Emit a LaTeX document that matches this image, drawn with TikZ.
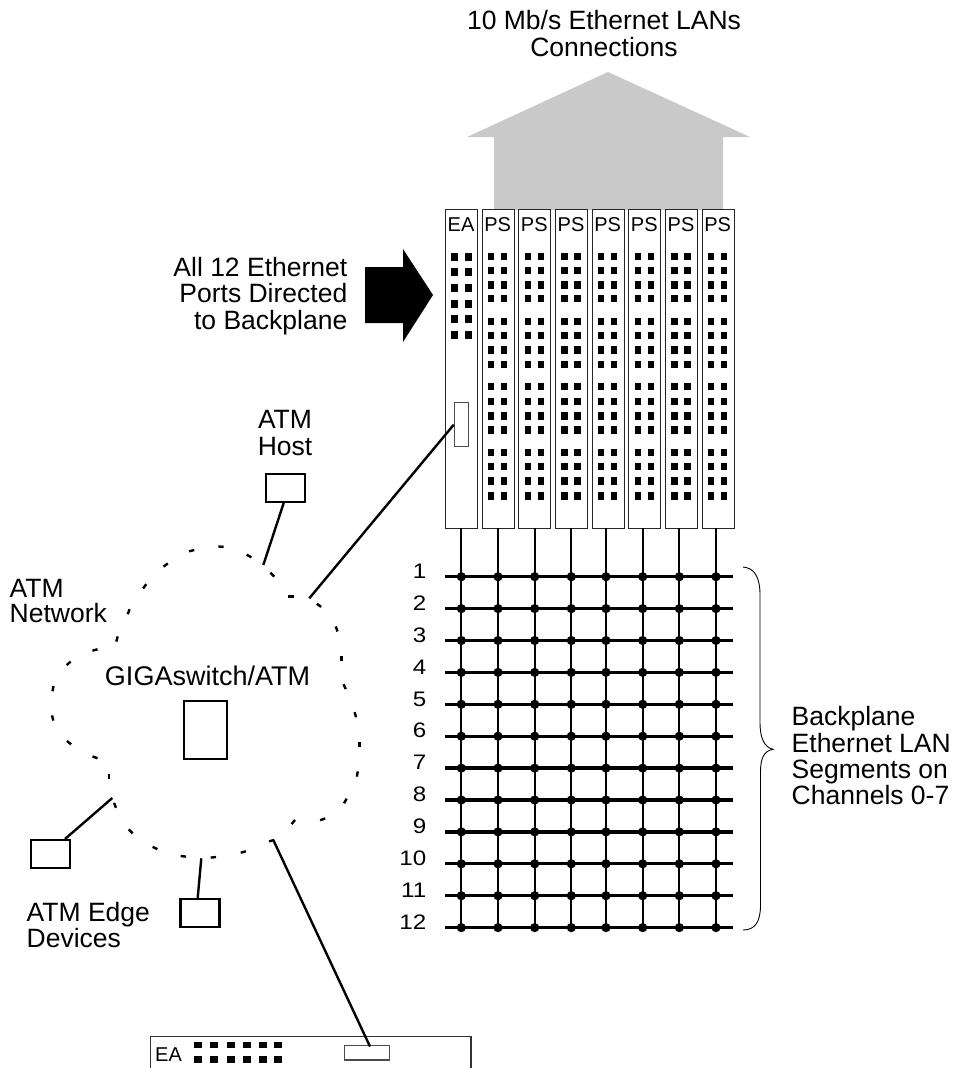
\documentclass[tikz,border=0pt]{standalone}
\usepackage{fontspec}
\setmainfont{Liberation Sans}
\newfontfamily\widefont[FakeStretch=1.15]{Liberation Sans}
\begin{document}
\begin{tikzpicture}[x=1pt,y=-1pt,
  lbl/.style={inner sep=0pt,font=\fontsize{26.5}{#1}\selectfont},
  small/.style={inner sep=0pt,font=\fontsize{20}{22}\selectfont},
  rownum/.style={inner sep=0pt,font=\widefont\fontsize{21}{22}\selectfont},
  slot/.style={draw=black!85,line width=1.1pt,fill=white,inner sep=0pt,anchor=north west},
  port/.style={draw=black!70,line width=1.1pt,fill=white,inner sep=0pt},
  devbox/.style={draw=black,line width=2.2pt,fill=white,inner sep=0pt},
  led/.style={fill=black,draw=none,inner sep=0pt},
  link/.style={draw=black,line width=2.4pt},
  bus/.style={draw=black,line width=3.3pt},
  drop/.style={draw=black,line width=1.8pt},
  clouddash/.style={draw=black,line width=2.4pt}]
\useasboundingbox (0,0) rectangle (955,1068);
% big arrows
\fill[black!21] (608,72) -- (750,137) -- (723,137) -- (723,210) -- (494,210) -- (494,137) -- (467,137) -- cycle;
\fill[black] (365,267) -- (403,267) -- (403,249) -- (433,295) -- (403,342) -- (403,323) -- (365,323) -- cycle;
% labels
\node[lbl=27pt,align=center] (top) at (604,33.8) {10 Mb/s Ethernet LANs\\Connections};
\node[lbl=26.4pt,align=right,anchor=east] (all) at (347.5,296.1) {All 12 Ethernet\\Ports Directed\\to Backplane};
\node[lbl=27pt,align=center] (hostl) at (285,433) {ATM\\Host};
\node[lbl=25.5pt,align=left,anchor=west] (netl) at (9.5,601.2) {ATM\\Network};
\node[inner sep=0pt,font=\fontsize{27}{29}\selectfont,anchor=base] (giga) at (207.5,685) {GIGAswitch/ATM};
\node[lbl=26.4pt,align=left,anchor=west] (edgel) at (26.5,925.2) {ATM Edge\\Devices};
\node[lbl=26.4pt,align=left,anchor=west] (backl) at (791.5,755.8) {Backplane\\Ethernet LAN\\Segments on\\Channels 0-7};
% EA slot
\node[slot,minimum width=32pt,minimum height=319.5pt] (ea) at (445,208.7) {};
\node[small,anchor=base] (ealbl) at (461,231) {EA};
\foreach \i/\y in {1/256.7,2/271.7,3/287.7,4/304,5/319.3,6/335}{
  \node[led,minimum width=6.9pt,minimum height=8pt] (eal\i) at (454.3,\y) {};
  \node[led,minimum width=6.9pt,minimum height=8pt] (ear\i) at (468.3,\y) {};
}
\node[port,minimum width=14pt,minimum height=44pt] (eaport) at (461.3,424.7) {};
% PS slots
\foreach \k/\xl in {1/481.7,2/518.3,3/555,4/591.7,5/628.3,6/665,7/701.7}{
  \node[slot,minimum width=32pt,minimum height=319.5pt] (ps\k) at (\xl,208.7) {};
  \node[small,anchor=base] (pslbl\k) at (\xl+16,231) {PS};
  \foreach \y in {256.7,270.7,285,298.7,321.7,335.7,350,364.7,386.7,401.3,416,430,452.7,466.7,481,496}{
    \node[led,minimum width=6.4pt,minimum height=7.5pt] at (\xl+9.5,\y) {};
    \node[led,minimum width=6.4pt,minimum height=7.5pt] at (\xl+22.5,\y) {};
  }
}
% backplane
\foreach \n/\x/\s in {0/461.3/ea,1/498/ps1,2/534.7/ps2,3/571.3/ps3,4/606/ps4,5/642.7/ps5,6/679.3/ps6,7/716/ps7}{
  \coordinate (dt\n) at (\x,528);
  \coordinate (db\n) at (\x,928);
  \draw[drop] (dt\n) -- (db\n);
}
\foreach \r in {1,...,12}{
  \pgfmathsetmacro{\yy}{576.7+(\r-1)*31.9}
  \coordinate (bl\r) at (445,\yy);
  \coordinate (br\r) at (733,\yy);
  \draw[bus] (bl\r) -- (br\r);
  \node[rownum,anchor=base east] (row\r) at (426.5,\yy+1.7) {\r};
  \foreach \x in {461.3,498,534.7,571.3,606,642.7,679.3,716}{
    \fill (\x,\yy) circle (4.6pt);
  }
}
% brace
\draw[black,line width=.9pt] (743,567) .. controls (755,568) and (760,578) .. (760,595)
  -- (760,722) .. controls (760,738) and (764,747) .. (773,749.3)
  .. controls (764,751) and (760.5,758) .. (760.5,772)
  -- (760.5,905) .. controls (760.5,922) and (755,930) .. (743,930);
% devices
\node[devbox,minimum width=39pt,minimum height=28pt] (host) at (285.5,487.7) {};
\node[devbox,minimum width=39pt,minimum height=28pt] (edgea) at (50.7,854.3) {};
\node[devbox,minimum width=39pt,minimum height=28pt] (edgeb) at (200,912.7) {};
\node[devbox,minimum width=43pt,minimum height=58pt] (gs) at (205.8,730) {};
% bottom EA card
\draw[draw=black!80,line width=1.1pt] (150.7,1068) -- (150.7,1036.7) -- (471,1036.7) -- (471,1068);
\node[small,anchor=base west] (ea2) at (155,1061) {EA};
\foreach \i/\x in {1/198.3,2/214.3,3/230.7,4/246.7,5/262.7,6/277.7}{
  \node[led,minimum width=8pt,minimum height=6.7pt] (bt\i) at (\x,1045) {};
  \node[led,minimum width=8pt,minimum height=6.7pt] (bb\i) at (\x,1059.3) {};
}
\node[port,minimum width=44.6pt,minimum height=14.3pt] (port2) at (367,1052.8) {};
% connectors
\coordinate (ca) at (263.3,565);
\coordinate (cb) at (309.3,598.3);
\coordinate (cc) at (112.3,798);
\coordinate (cd) at (201.3,858.3);
\coordinate (ce) at (273.3,840);
\coordinate (hostp) at (283.7,503);
\coordinate (edgeap) at (65,839);
\coordinate (edgebp) at (197.7,898);
\coordinate (port2p) at (370,1046.5);
\draw[link] (hostp) -- (ca);
\draw[link] (eaport.west) -- (cb);
\draw[link] (edgeap) -- (cc);
\draw[link] (edgebp) -- (cd);
\draw[link] (port2p) -- (ce);
% cloud
\begin{scope}[x=.33333pt,y=-.33333pt,shift={(30pt,-530pt)}]
\foreach \x/\y/\a in {485/62/15,573/50/-5,657/78/-30,727/134/-45,783/200/0,867/226/-35,920/297/-70,935/385/90,944/470/-65,976/554/-75,989/643/90,982/732/80,946/813/60,878/868/20,790/876/50,725/932/15,640/966/15,550/982/5,460/979/-5,375/954/-25,302/904/-45,255/826/-70,237/740/90,195/682/-20,117/638/-40,68/564/-75,69/476/80,116/400/40,195/360/15,261/327/75,296/245/70,344/169/55,407/105/35}{
  \draw[clouddash,shift={(\x,\y)},rotate=\a] (-8,0) -- (8,0);
}
\end{scope}
\end{tikzpicture}
\end{document}
